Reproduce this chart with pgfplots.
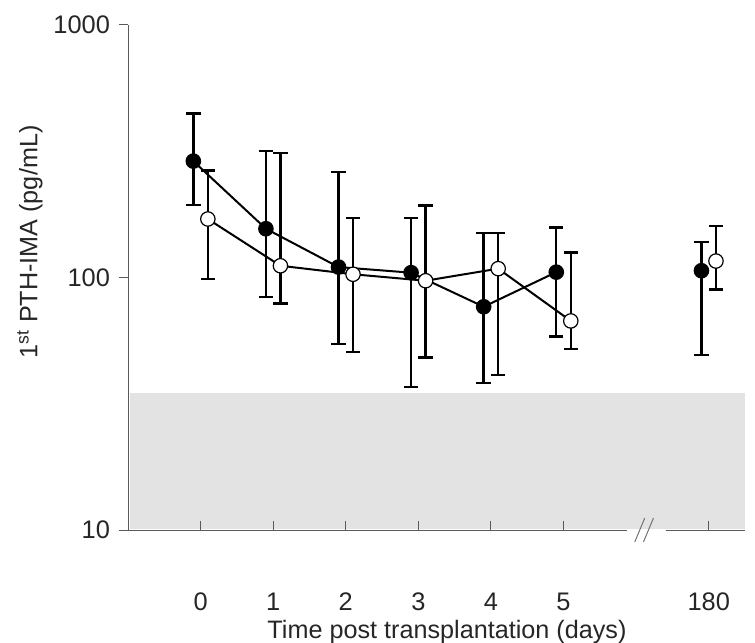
\documentclass[border=0pt]{standalone}
\usepackage{fontspec}
\setmainfont{Liberation Sans}
\usepackage{pgfplots}
\pgfplotsset{compat=1.18}
\begin{document}
\begin{tikzpicture}
\begin{axis}[
  set layers,
  scale only axis,
  width=308.5pt, height=252.5pt,
  ymode=log, ymin=10, ymax=1000,
  xmin=-1, xmax=7.5,
  axis x line*=bottom, axis y line*=left,
  axis line style={-, draw=black!65, line width=0.5pt},
  xtick={0,1,2,3,4,5,7}, xticklabels={0,1,2,3,4,5,180},
  ytick={10,100,1000}, yticklabels={10,100,1000},
  yminorticks=false,
  xtick align=inside, ytick align=outside,
  major tick length=4.5pt,
  tick style={draw=black!65, line width=0.5pt},
  /pgf/number format/assume math mode=true,
  tick label style={font=\fontsize{12.7}{14}\selectfont, text=black!85},
  xticklabel style={yshift=-28pt},
  yticklabel style={xshift=-1pt},
  xlabel={Time post transplantation (days)},
  ylabel={1\textsuperscript{st} PTH-IMA (pg/mL)},
  label style={font=\fontsize{12.6}{14}\selectfont, text=black!85},
  xlabel style={at={(axis description cs:0.517,0)}, anchor=center, yshift=-51pt},
  ylabel style={at={(axis description cs:0,0.57)}, anchor=center, yshift=49pt},
  clip=false,
]
% normal range band
\addplot[fill=black!11, draw=none, forget plot, on layer=axis background] coordinates {(-0.97,10.1) (7.5,10.1) (7.5,35) (-0.97,35)} -- cycle;

% filled circles
\addplot[black, line width=1pt, mark=*, mark size=3.6pt, mark options={fill=black, line width=0.6pt},
  error bars/.cd, y dir=both, y explicit,
  error bar style={line width=1.2pt, black},
  error mark options={rotate=90, mark size=3.6pt, line width=1.2pt, black}]
coordinates {
(-0.1,289) += (0,157) -= (0,95)
(0.9,156) += (0,161) -= (0,72.5)
(1.9,110) += (0,151) -= (0,55.5)
(2.9,104.5) += (0,68) -= (0,67.6)
(3.9,76.6) += (0,73.4) -= (0,38.3)
(4.9,105) += (0,53) -= (0,46.7)
};
\addplot[black, line width=1pt, only marks, mark=*, mark size=3.6pt, mark options={fill=black, line width=0.6pt},
  error bars/.cd, y dir=both, y explicit,
  error bar style={line width=1.2pt, black},
  error mark options={rotate=90, mark size=3.6pt, line width=1.2pt, black}]
coordinates {
(6.9,106.4) += (0,31.6) -= (0,57.1)
};
% open circles
\addplot[black, line width=1pt, mark=*, mark size=3.6pt, mark options={fill=white, draw=black, line width=0.6pt},
  error bars/.cd, y dir=both, y explicit,
  error bar style={line width=1.2pt, black},
  error mark options={rotate=90, mark size=3.6pt, line width=1.2pt, black}]
coordinates {
(0.1,170.5) += (0,94.5) -= (0,72.1)
(1.1,111.3) += (0,200.7) -= (0,32.3)
(2.1,103) += (0,69.5) -= (0,52.4)
(3.1,97.1) += (0,95.4) -= (0,48.8)
(4.1,108.4) += (0,41.6) -= (0,67.4)
(5.1,67.3) += (0,58.1) -= (0,15.2)
};
\addplot[black, line width=1pt, only marks, mark=*, mark size=3.6pt, mark options={fill=white, draw=black, line width=0.6pt},
  error bars/.cd, y dir=both, y explicit,
  error bar style={line width=1.2pt, black},
  error mark options={rotate=90, mark size=3.6pt, line width=1.2pt, black}]
coordinates {
(7.1,116.2) += (0,43.8) -= (0,26.4)
};

% axis break
\fill[white] ([yshift=-1pt]axis cs:5.88,10) rectangle ([yshift=0.6pt]axis cs:6.41,10);
\draw[black!55, line width=0.5pt] ([xshift=-2.5pt,yshift=-6pt]axis cs:6.05,10) -- ([xshift=2.5pt,yshift=6pt]axis cs:6.05,10);
\draw[black!55, line width=0.5pt] ([xshift=-2.5pt,yshift=-6pt]axis cs:6.17,10) -- ([xshift=2.5pt,yshift=6pt]axis cs:6.17,10);

\coordinate (BBa) at ([xshift=-64pt,yshift=-56pt]rel axis cs:0,0);
\coordinate (BBb) at ([xshift=5pt,yshift=12.5pt]rel axis cs:1,1);
\end{axis}
\pgfresetboundingbox
\path[use as bounding box] (BBa) rectangle (BBb);
\end{tikzpicture}
\end{document}
